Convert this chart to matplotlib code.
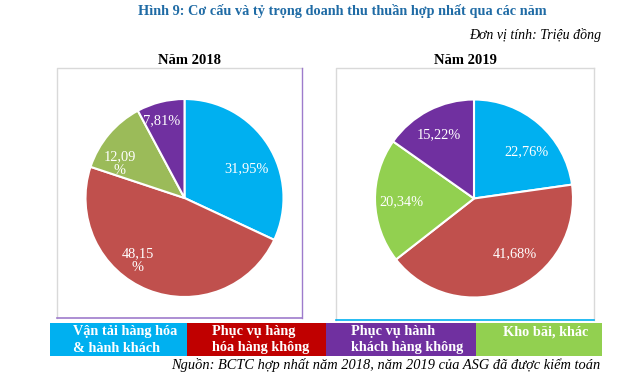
import matplotlib.pyplot as plt
from matplotlib.patches import Rectangle
import numpy as np

plt.rcParams['font.family'] = ['Liberation Serif', 'DejaVu Serif']

# du lieu
categories = ['Vận tải hàng hóa\n& hành khách', 'Phục vụ hàng\nhóa hàng không',
              'Phục vụ hành\nkhách hàng không', 'Kho bãi, khác']
# thu tu tren pie (theo chieu kim dong ho): xanh, do, xanh la, tim
share_2018 = [31.95, 48.15, 12.09, 7.81]
share_2019 = [22.76, 41.68, 20.34, 15.22]
labels_2018 = ['31,95%', '48,15\n%', '12,09\n%', '7,81%']
labels_2019 = ['22,76%', '41,68%', '20,34%', '15,22%']

W, H = 640, 375
fig = plt.figure(figsize=(W / 100, H / 100), dpi=100)


def fx(x):
    return x / W


def fy(y):
    return 1 - y / H


def draw_box(x0, y0, x1, y1, right_color, bottom_color):
    # khung quanh moi bieu do
    ax = fig.add_axes([0, 0, 1, 1], zorder=0)
    ax.set_xlim(0, W)
    ax.set_ylim(H, 0)
    ax.axis('off')
    ax.plot([x0, x0, x1], [y1, y0, y0], color='#d9d9d9', lw=1)
    ax.plot([x1, x1], [y0, y1], color=right_color, lw=1)
    ax.plot([x0, x1], [y1, y1], color=bottom_color, lw=1.2)


def draw_pie(cx, cy, r, values, labels, colors, offsets, dists):
    ax = fig.add_axes([fx(cx - r), fy(cy + r), 2 * r / W, 2 * r / H], zorder=2)
    wedges, _ = ax.pie(values, colors=colors, startangle=90, counterclock=False,
                       radius=1, wedgeprops=dict(edgecolor='white', linewidth=1.5))
    for w, lab, off, d in zip(wedges, labels, offsets, dists):
        ang = np.deg2rad((w.theta1 + w.theta2) / 2 + off)
        ax.text(d * np.cos(ang), d * np.sin(ang), lab, ha='center', va='center',
                color='white', fontsize=10.4, linespacing=1.15)
    ax.set_xlim(-1, 1)
    ax.set_ylim(-1, 1)
    ax.set_aspect('equal')


draw_box(57, 68, 302, 318, '#9e7bcc', '#9e7bcc')
draw_box(336, 68, 594, 320, '#d9d9d9', '#00b0f0')

draw_pie(184.5, 198, 99, share_2018, labels_2018,
         ['#00b0f0', '#c0504d', '#9bbb59', '#7030a0'],
         [-7.5, -15, 12, 2.5], [0.69, 0.79, 0.74, 0.81])
draw_pie(474, 198.5, 99, share_2019, labels_2019,
         ['#00b0f0', '#c0504d', '#92d050', '#7030a0'],
         [-7.4, 13.3, 1.1, 1.6], [0.71, 0.69, 0.73, 0.74])

# tieu de
fig.text(fx(342), fy(11), 'Hình 9: Cơ cấu và tỷ trọng doanh thu thuần hợp nhất qua các năm',
         ha='center', va='center', fontsize=10.3, fontweight='bold', color='#1f6ba5')
fig.text(fx(601), fy(35), 'Đơn vị tính: Triệu đồng', ha='right', va='center',
         fontsize=10, style='italic')
fig.text(fx(189), fy(60), 'Năm 2018', ha='center', va='center', fontsize=10.5, fontweight='bold')
fig.text(fx(465), fy(60), 'Năm 2019', ha='center', va='center', fontsize=10.5, fontweight='bold')

# chu thich dang o mau
lax = fig.add_axes([0, 0, 1, 1], zorder=3)
lax.set_xlim(0, W)
lax.set_ylim(H, 0)
lax.axis('off')
legend_colors = ['#00b0f0', '#c00000', '#7030a0', '#92d050']
edges = [50, 187, 326, 476, 602]
text_x = [73, 212, 351, 503]
for i, name in enumerate(categories):
    lax.add_patch(Rectangle((edges[i], 323), edges[i + 1] - edges[i], 33,
                            facecolor=legend_colors[i], edgecolor='none'))
    for j, line in enumerate(name.split('\n')):
        lax.text(text_x[i], 332 + 16 * j, line, ha='left', va='center', color='white',
                 fontsize=10.3, fontweight='bold')

fig.text(fx(600), fy(365), 'Nguồn: BCTC hợp nhất năm 2018, năm 2019 của ASG đã được kiểm toán',
         ha='right', va='center', fontsize=10.4, style='italic')

fig.savefig('out.png', dpi=100)
